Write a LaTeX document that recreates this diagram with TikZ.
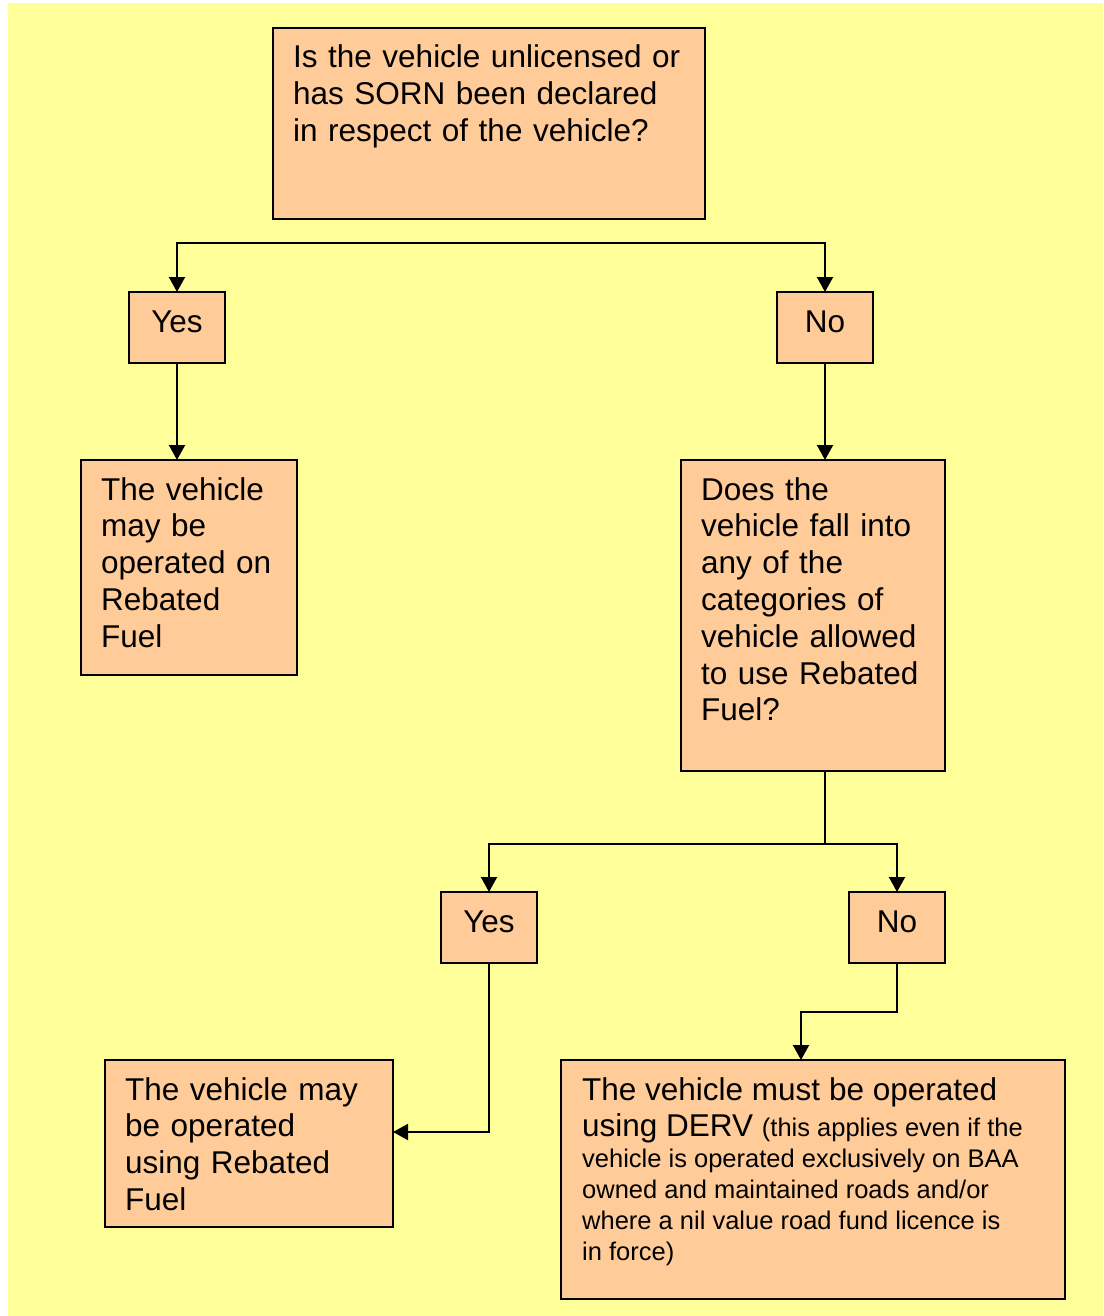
\documentclass[tikz,border=0pt]{standalone}
\usepackage{fontspec}
\setmainfont{Liberation Sans}
\usetikzlibrary{arrows.meta}
\definecolor{paper}{HTML}{FFFF99}
\definecolor{boxfill}{HTML}{FFCC99}
\newcommand\bigtext{\fontsize{31.5}{36.8}\selectfont}
\newcommand\smalltext{\fontsize{25.5}{31}\selectfont}
\begin{document}
\begin{tikzpicture}[x=1pt,y=-1pt,
  box/.style={draw=black, line width=2pt, fill=boxfill, inner sep=0pt, outer sep=0pt, anchor=north west},
  txt/.style={anchor=base west, inner sep=0pt, align=left, font=\bigtext},
  lbl/.style={anchor=base, inner sep=0pt, font=\bigtext},
  wire/.style={line width=2pt},
  arr/.style={line width=2pt, -{Triangle[length=15pt,width=16pt]}}]
\useasboundingbox (0,0) rectangle (1103,1316);
\fill[paper] (8,3) rectangle (1103,1316);

% boxes
\node[box, minimum width=432, minimum height=191] (q1) at (273,28) {};
\node[box, minimum width=96, minimum height=71] (yes1) at (129,292) {};
\node[box, minimum width=96, minimum height=71] (no1) at (777,292) {};
\node[box, minimum width=216, minimum height=215] (r1) at (81,460) {};
\node[box, minimum width=264, minimum height=311] (q2) at (681,460) {};
\node[box, minimum width=96, minimum height=71] (yes2) at (441,892) {};
\node[box, minimum width=96, minimum height=71] (no2) at (849,892) {};
\node[box, minimum width=288, minimum height=167] (r2) at (105,1060) {};
\node[box, minimum width=504, minimum height=239] (r3) at (561,1060) {};

% texts
\node[txt, text width=410] (q1t) at ([xshift=20,yshift=-40]q1.north west)
  {Is the vehicle unlicensed or\\has SORN been declared\\in respect of the vehicle?};
\node[lbl] (yes1t) at ([yshift=-40]yes1.north) {Yes};
\node[lbl] (no1t) at ([yshift=-40]no1.north) {No};
\node[txt, text width=196] (r1t) at ([xshift=20,yshift=-40]r1.north west)
  {The vehicle\\may be\\operated on\\Rebated\\Fuel};
\node[txt, text width=244] (q2t) at ([xshift=20,yshift=-40]q2.north west)
  {Does the\\vehicle fall into\\any of the\\categories of\\vehicle allowed\\to use Rebated\\Fuel?};
\node[lbl] (yes2t) at ([yshift=-40]yes2.north) {Yes};
\node[lbl] (no2t) at ([yshift=-40]no2.north) {No};
\node[txt, text width=268] (r2t) at ([xshift=20,yshift=-40]r2.north west)
  {The vehicle may\\be operated\\using Rebated\\Fuel};
\node[anchor=base west, inner sep=0pt] (r3t) at ([xshift=21,yshift=-40]r3.north west)
  {\begin{minipage}[t]{483pt}\raggedright
   \bigtext The vehicle must be operated\\using DERV {\smalltext (this applies even if the}\par
   \smalltext vehicle is operated exclusively on BAA\\owned and maintained roads and/or\\where a nil value road fund licence is\\in force)\par
   \end{minipage}};

% connectors
\coordinate (s1) at (501,243);
\draw[arr] (s1) -| (yes1.north);
\draw[arr] (s1) -| (no1.north);
\draw[arr] (yes1.south) -- (yes1 |- r1.north);
\draw[arr] (no1.south) -- (no1 |- q2.north);
\coordinate (s2) at (825,844);
\draw[wire] (s2 |- q2.south) -- (s2);
\draw[arr] (s2) -| (yes2.north);
\draw[arr] (s2) -| (no2.north);
\coordinate (k1) at (489,1132);
\draw[arr] (yes2.south) -- (k1) -- (k1 -| r2.east);
\coordinate (k2) at (801,1012);
\draw[arr] (no2.south) |- (k2) -- (k2 |- r3.north);
\end{tikzpicture}
\end{document}
